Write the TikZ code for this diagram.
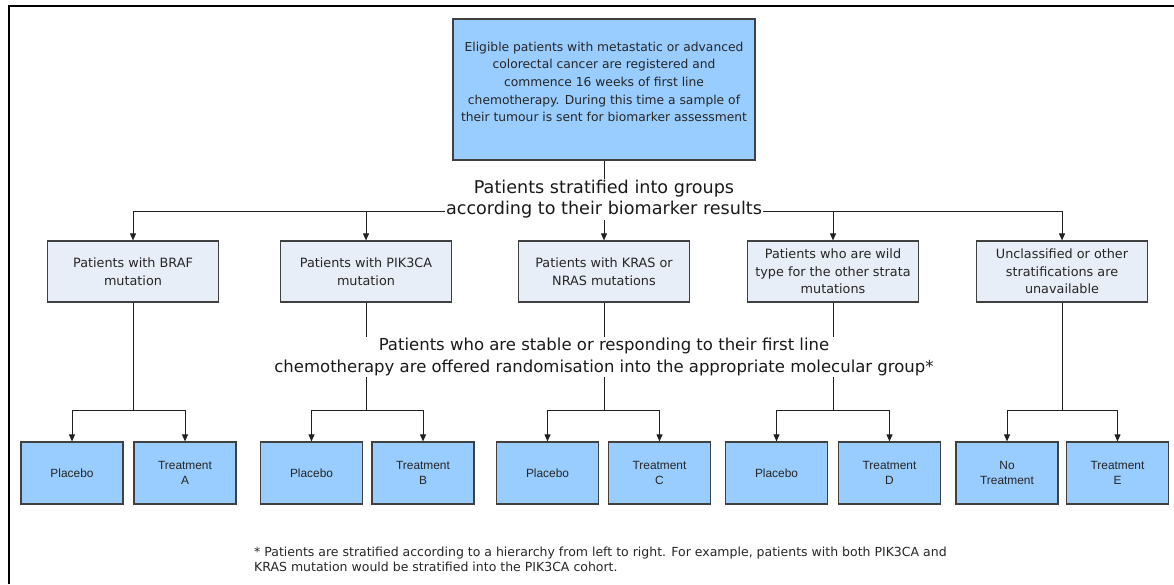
\documentclass[tikz,border=0pt]{standalone}
\usepackage{fontspec}
\setmainfont{DejaVu Sans}
\newfontfamily\arialf{Liberation Sans}
\usetikzlibrary{arrows.meta}
\definecolor{bluefill}{HTML}{99CCFF}
\definecolor{midfill}{HTML}{E8EEF7}
\definecolor{boxline}{HTML}{404040}
\definecolor{linecol}{HTML}{202020}
\begin{document}
\begin{tikzpicture}[x=1pt,y=-1pt,
  topbox/.style={draw=boxline, fill=bluefill, line width=1.2pt, minimum width=302pt, minimum height=141pt, inner sep=0pt},
  toptext/.style={align=center, inner sep=0pt, font=\fontsize{12.3}{17.6}\selectfont, text=black!85},
  midbox/.style={draw=boxline, fill=midfill, line width=1.2pt, minimum width=171pt, minimum height=61pt, align=center, inner sep=0pt, font=\fontsize{12.8}{17.5}\selectfont, text=black!85},
  botbox/.style={draw=boxline, fill=bluefill, line width=1.2pt, minimum width=102pt, minimum height=62pt, align=center, inner sep=0pt, font=\arialf\fontsize{11.9}{14.5}\selectfont, text=black!85},
  bigtext/.style={align=center, inner sep=1pt, text=black!90},
  notetext/.style={align=left, inner sep=0pt, font=\fontsize{12.5}{15}\selectfont, text=black!85},
  conn/.style={line width=0.9pt, draw=linecol},
  arr/.style={conn, -{Triangle[length=7pt,width=6pt]}}
]
\useasboundingbox (0,0) rectangle (1174,584);
% frame
\draw[line width=2pt] (9,584) -- (9,6) -- (1174,6);

% top box
\node[topbox] (top) at (604,89.5) {};
\node[toptext] (toptxt) at (604,82) {Eligible patients with metastatic or advanced\\colorectal cancer are registered and\\commence 16 weeks of first line\\chemotherapy. During this time a sample of\\their tumour is sent for biomarker assessment};

% stratification text
\node[bigtext, font=\fontsize{17.6}{21}\selectfont] (strat) at (604,199.5) {Patients stratified into groups\\according to their biomarker results};
\coordinate (hl) at (0,211);

% middle boxes
\node[midbox] (b1) at (133,271.5) {Patients with BRAF\\mutation};
\node[midbox] (b2) at (366,271.5) {Patients with PIK3CA\\mutation};
\node[midbox] (b3) at (604,271.5) {Patients with KRAS or\\NRAS mutations};
\node[midbox] (b4) at (833,271.5) {Patients who are wild\\type for the other strata\\mutations};
\node[midbox] (b5) at (1062,271.5) {Unclassified or other\\stratifications are\\unavailable};

\draw[conn] (top.south) -- (strat.north);
\draw[arr] (strat.west |- hl) -| (b1.north);
\draw[arr] (b2.north |- hl) -- (b2.north);
\draw[arr] (strat.south) -- (b3.north);
\draw[arr] (strat.east |- hl) -| (b5.north);
\draw[arr] (b4.north |- hl) -- (b4.north);

% randomisation text
\node[bigtext, font=\fontsize{16.5}{22}\selectfont] (rand) at (604,357) {Patients who are stable or responding to their first line\\chemotherapy are offered randomisation into the appropriate molecular group*};

% junctions
\coordinate (j1) at (133,410);
\coordinate (j2) at (366,410);
\coordinate (j3) at (604,410);
\coordinate (j4) at (833,410);
\coordinate (j5) at (1062,410);

% bottom boxes
\node[botbox] (p1) at (72,473) {Placebo};
\node[botbox] (t1) at (185,473) {Treatment\\A};
\node[botbox] (p2) at (311.5,473) {Placebo};
\node[botbox] (t2) at (423,473) {Treatment\\B};
\node[botbox] (p3) at (547.5,473) {Placebo};
\node[botbox] (t3) at (659.5,473) {Treatment\\C};
\node[botbox] (p4) at (776.5,473) {Placebo};
\node[botbox] (t4) at (889.5,473) {Treatment\\D};
\node[botbox] (p5) at (1007,473) {No\\Treatment};
\node[botbox] (t5) at (1117.5,473) {Treatment\\E};

% vertical connectors from middle boxes
\draw[conn] (b1.south) -- (j1);
\draw[conn] (b2.south) -- (b2.south |- rand.north);
\draw[conn] (b2.south |- rand.south) -- (j2);
\draw[conn] (b3.south) -- (b3.south |- rand.north);
\draw[conn] (b3.south |- rand.south) -- (j3);
\draw[conn] (b4.south) -- (b4.south |- rand.north);
\draw[conn] (b4.south |- rand.south) -- (j4);
\draw[conn] (b5.south) -- (j5);

% splits
\foreach \i in {1,...,5}{
  \draw[arr] (j\i) -| (p\i.north);
  \draw[arr] (j\i) -| (t\i.north);
}

% footnote
\node[notetext, anchor=west] (note) at (254,559.5) {* Patients are stratified according to a hierarchy from left to right. For example, patients with both PIK3CA and\\KRAS mutation would be stratified into the PIK3CA cohort.};
\end{tikzpicture}
\end{document}
